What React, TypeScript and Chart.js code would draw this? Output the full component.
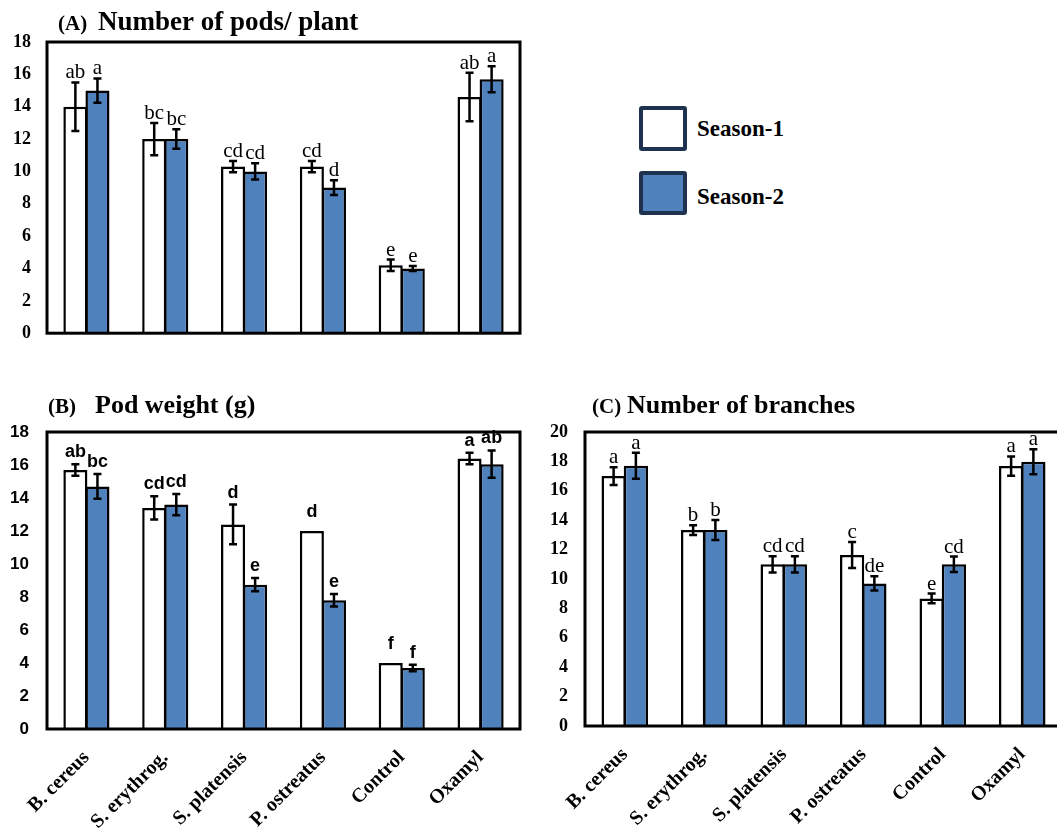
import React, { useEffect, useRef } from "react";
import { Chart, registerables } from "chart.js";
Chart.register(...registerables);

const categories = ["B. cereus", "S. erythrog.", "S. platensis", "P. ostreatus", "Control", "Oxamyl"];
const seriesNames = ["Season-1", "Season-2"];

// (A) Number of pods / plant
const podsS1 = [14, 12, 10.3, 10.3, 4.2, 14.6];
const podsS1Err = [1.5, 1, 0.35, 0.35, 0.35, 1.5];
const podsS1Letters = ["ab", "bc", "cd", "cd", "e", "ab"];
const podsS2 = [15, 12, 10, 9, 4, 15.7];
const podsS2Err = [0.75, 0.6, 0.5, 0.45, 0.15, 0.8];
const podsS2Letters = ["a", "bc", "cd", "d", "e", "a"];

// (B) Pod weight (g)
const weightS1 = [15.7, 13.4, 12.4, 12, 4, 16.4];
const weightS1Err = [0.35, 0.7, 1.2, 0, 0, 0.35];
const weightS1Letters = ["ab", "cd", "d", "d", "f", "a"];
const weightS2 = [14.7, 13.6, 8.75, 7.8, 3.7, 16.05];
const weightS2Err = [0.75, 0.65, 0.4, 0.38, 0.2, 0.83];
const weightS2Letters = ["bc", "cd", "e", "e", "f", "ab"];

// (C) Number of branches
const branchS1 = [17, 13.33, 11, 11.63, 8.68, 17.68];
const branchS1Err = [0.6, 0.33, 0.55, 0.88, 0.33, 0.66];
const branchS1Letters = ["a", "b", "cd", "c", "e", "a"];
const branchS2 = [17.7, 13.33, 11, 9.7, 11, 17.98];
const branchS2Err = [0.88, 0.68, 0.55, 0.48, 0.53, 0.85];
const branchS2Letters = ["a", "b", "cd", "de", "cd", "a"];

const yTicksA = [0, 2, 4, 6, 8, 10, 12, 14, 16, 18];
const yTicksB = [0, 2, 4, 6, 8, 10, 12, 14, 16, 18];
const yTicksC = [0, 2, 4, 6, 8, 10, 12, 14, 16, 18, 20];

const BLUE = "#4F81BD";
const SERIF = '"Liberation Serif", "Times New Roman", serif';
const SANS = '"Liberation Sans", Arial, sans-serif';

type TitlePart = { text: string; x: number; font: string };

type PanelProps = {
  left: number;
  top: number;
  width: number;
  height: number;
  areaLeft: number;
  areaTop: number;
  areaRight: number;
  xAxisHeight: number;
  yMax: number;
  yTicks: number[];
  s1: number[];
  s1Err: number[];
  s1Letters: string[];
  s2: number[];
  s2Err: number[];
  s2Letters: string[];
  showX: boolean;
  tickFont: string;
  tickSize: number;
  letterFont: string;
  letterGap: number;
  titleParts: TitlePart[];
  titleBaseline: number;
  yPad: number;
};

const decorPlugin = {
  id: "decor",
  afterDatasetsDraw(chart: any, _args: any, opts: any) {
    const ctx = chart.ctx;
    const yScale = chart.scales.y;
    ctx.save();
    chart.data.datasets.forEach((ds: any, di: number) => {
      const meta = chart.getDatasetMeta(di);
      meta.data.forEach((el: any, i: number) => {
        const v = ds.data[i];
        const e = ds.errors[i];
        const x = el.x;
        let anchor = el.y;
        if (e > 0) {
          const yt = yScale.getPixelForValue(v + e);
          const yb = yScale.getPixelForValue(v - e);
          ctx.strokeStyle = "#000";
          ctx.lineWidth = 2.5;
          ctx.beginPath();
          ctx.moveTo(x, yt);
          ctx.lineTo(x, yb);
          ctx.moveTo(x - 4, yt);
          ctx.lineTo(x + 4, yt);
          ctx.moveTo(x - 4, yb);
          ctx.lineTo(x + 4, yb);
          ctx.stroke();
          anchor = yt;
        } else {
          anchor = el.y - 7;
        }
        ctx.fillStyle = "#000";
        ctx.font = opts.letterFont;
        ctx.textAlign = "center";
        ctx.textBaseline = "alphabetic";
        ctx.fillText(ds.letters[i], x, anchor - opts.letterGap);
      });
    });
    const a = chart.chartArea;
    ctx.strokeStyle = "#000";
    ctx.lineWidth = 3;
    ctx.strokeRect(a.left, a.top, a.right - a.left, a.bottom - a.top);
    ctx.fillStyle = "#000";
    ctx.textAlign = "left";
    ctx.textBaseline = "alphabetic";
    (opts.titleParts as TitlePart[]).forEach((p) => {
      ctx.font = p.font;
      ctx.fillText(p.text, p.x, opts.titleBaseline);
    });
    ctx.restore();
  },
};

function Panel(p: PanelProps) {
  const ref = useRef<HTMLCanvasElement | null>(null);
  useEffect(() => {
    if (!ref.current) return;
    const chart = new Chart(ref.current, {
      type: "bar",
      data: {
        labels: categories,
        datasets: [
          {
            label: seriesNames[0],
            data: p.s1,
            errors: p.s1Err,
            letters: p.s1Letters,
            backgroundColor: "#FFFFFF",
            borderColor: "#000000",
            borderWidth: 2.5,
          } as any,
          {
            label: seriesNames[1],
            data: p.s2,
            errors: p.s2Err,
            letters: p.s2Letters,
            backgroundColor: BLUE,
            borderColor: "#000000",
            borderWidth: 2.5,
          } as any,
        ],
      },
      options: {
        animation: false,
        responsive: false,
        maintainAspectRatio: false,
        datasets: { bar: { categoryPercentage: 0.56, barPercentage: 1.09 } },
        layout: {
          padding: {
            left: 0,
            top: p.areaTop,
            right: p.width - p.areaRight,
            bottom: 0,
          },
        },
        plugins: {
          legend: { display: false },
          tooltip: { enabled: false },
          title: { display: false },
          decor: {
            letterFont: p.letterFont,
            letterGap: p.letterGap,
            titleParts: p.titleParts,
            titleBaseline: p.titleBaseline,
          },
        } as any,
        scales: {
          x: {
            grid: { display: false, drawTicks: false },
            border: { display: false },
            ticks: {
              display: p.showX,
              minRotation: 45,
              maxRotation: 45,
              padding: 17,
              color: "#000",
              font: { family: SERIF, size: 20, weight: "bold" },
            },
            afterFit: (s: any) => {
              s.height = p.xAxisHeight;
            },
          },
          y: {
            min: 0,
            max: p.yMax,
            grid: { display: false, drawTicks: false },
            border: { display: false },
            afterBuildTicks: (s: any) => {
              s.ticks = p.yTicks.map((v) => ({ value: v }));
            },
            ticks: {
              padding: p.yPad,
              color: "#000",
              font: { family: p.tickFont, size: p.tickSize, weight: "bold" },
            },
            afterFit: (s: any) => {
              s.width = p.areaLeft;
            },
          },
        },
      },
      plugins: [decorPlugin],
    });
    return () => chart.destroy();
  }, []);
  return (
    <div style={{ position: "absolute", left: p.left, top: p.top, width: p.width, height: p.height }}>
      <canvas ref={ref} width={p.width} height={p.height} style={{ width: p.width, height: p.height }} />
    </div>
  );
}

export default function App() {
  return (
    <div
      style={{
        position: "fixed",
        left: 0,
        top: 0,
        width: 1057,
        height: 828,
        overflow: "hidden",
        background: "#fff",
      }}
    >
      <Panel
        left={0}
        top={0}
        width={530}
        height={360}
        areaLeft={47}
        areaTop={42}
        areaRight={520}
        xAxisHeight={12}
        yMax={18}
        yTicks={yTicksA}
        s1={podsS1}
        s1Err={podsS1Err}
        s1Letters={podsS1Letters}
        s2={podsS2}
        s2Err={podsS2Err}
        s2Letters={podsS2Letters}
        showX={false}
        tickFont={SERIF}
        tickSize={18}
        letterFont={`21px ${SERIF}`}
        letterGap={4}
        titleParts={[
          { text: "(A)", x: 58, font: `bold 21px ${SERIF}` },
          { text: "Number of pods/ plant", x: 98, font: `bold 27px ${SERIF}` },
        ]}
        titleBaseline={30}
        yPad={16}
      />
      <Panel
        left={0}
        top={370}
        width={540}
        height={458}
        areaLeft={47}
        areaTop={62}
        areaRight={520}
        xAxisHeight={99}
        yMax={18}
        yTicks={yTicksB}
        s1={weightS1}
        s1Err={weightS1Err}
        s1Letters={weightS1Letters}
        s2={weightS2}
        s2Err={weightS2Err}
        s2Letters={weightS2Letters}
        showX={true}
        tickFont={SANS}
        tickSize={17}
        letterFont={`bold 18px ${SANS}`}
        letterGap={7}
        titleParts={[
          { text: "(B)", x: 48, font: `bold 21px ${SERIF}` },
          { text: "Pod weight (g)", x: 95, font: `bold 26px ${SERIF}` },
        ]}
        titleBaseline={43}
        yPad={18}
      />
      <Panel
        left={530}
        top={370}
        width={545}
        height={458}
        areaLeft={55}
        areaTop={62}
        areaRight={532}
        xAxisHeight={102}
        yMax={20}
        yTicks={yTicksC}
        s1={branchS1}
        s1Err={branchS1Err}
        s1Letters={branchS1Letters}
        s2={branchS2}
        s2Err={branchS2Err}
        s2Letters={branchS2Letters}
        showX={true}
        tickFont={SERIF}
        tickSize={18}
        letterFont={`21px ${SERIF}`}
        letterGap={4}
        titleParts={[
          { text: "(C)", x: 62, font: `bold 21px ${SERIF}` },
          { text: "Number of branches", x: 97, font: `bold 26px ${SERIF}` },
        ]}
        titleBaseline={43}
        yPad={17}
      />
      <div
        style={{
          position: "absolute",
          left: 639,
          top: 106,
          width: 48,
          height: 45,
          boxSizing: "border-box",
          border: "4px solid #1F3350",
          borderRadius: 3,
          background: "#FFFFFF",
        }}
      />
      <div
        style={{
          position: "absolute",
          left: 697,
          top: 116,
          font: `bold 23px ${SERIF}`,
          lineHeight: "26px",
          color: "#000",
        }}
      >
        {seriesNames[0]}
      </div>
      <div
        style={{
          position: "absolute",
          left: 639,
          top: 171,
          width: 48,
          height: 44,
          boxSizing: "border-box",
          border: "4px solid #1F3350",
          borderRadius: 3,
          background: BLUE,
        }}
      />
      <div
        style={{
          position: "absolute",
          left: 697,
          top: 184,
          font: `bold 23px ${SERIF}`,
          lineHeight: "26px",
          color: "#000",
        }}
      >
        {seriesNames[1]}
      </div>
    </div>
  );
}
